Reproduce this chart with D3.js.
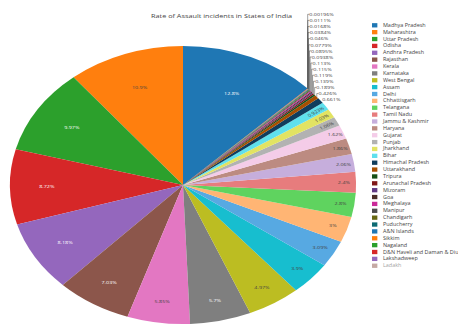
<!DOCTYPE html>
<html>
<head>
<meta charset="utf-8">
<script src="https://cdn.jsdelivr.net/npm/d3@7"></script>
<style>
  html, body { margin: 0; padding: 0; background: #fff; overflow: hidden; }
  svg { display: block; font-family: "Open Sans", verdana, arial, sans-serif; }
</style>
</head>
<body>
<svg id="chart" width="458" height="326"></svg>
<script>
// Share of assault incidents by state (percent of all-India total)
const states = [
  "Madhya Pradesh", "Maharashtra", "Uttar Pradesh", "Odisha", "Andhra Pradesh",
  "Rajasthan", "Kerala", "Karnataka", "West Bengal", "Assam", "Delhi",
  "Chhattisgarh", "Telangana", "Tamil Nadu", "Jammu & Kashmir", "Haryana",
  "Gujarat", "Punjab", "Jharkhand", "Bihar", "Himachal Pradesh", "Uttarakhand",
  "Tripura", "Arunachal Pradesh", "Mizoram", "Goa", "Meghalaya", "Manipur",
  "Chandigarh", "Puducherry", "A&N Islands", "Sikkim", "Nagaland",
  "D&N Haveli and Daman & Diu", "Lakshadweep", "Ladakh"
];
const rates = [
  12.8, 10.9, 9.97, 8.72, 8.18,
  7.03, 5.85, 5.7, 4.97, 3.9, 3.09,
  3, 2.8, 2.4, 2.06, 1.86,
  1.62, 1.06, 1.03, 0.923, 0.661, 0.426,
  0.189, 0.139, 0.119, 0.115, 0.113, 0.0938,
  0.0895, 0.0779, 0.046, 0.0384, 0.0168,
  0.0111, 0.00196, 0
];
const hiddenStates = ["Ladakh"];
const chartTitle = "Rate of Assault incidents in States of India";

const baseColors = ["#1f77b4", "#ff7f0e", "#2ca02c", "#d62728", "#9467bd",
                    "#8c564b", "#e377c2", "#7f7f7f", "#bcbd22", "#17becf"];

// ---- layout ----
const W = 458, H = 326;
const stretchX = 1.245;            // the drawing is widened horizontally
const VW = W / stretchX, VH = H;
const cx = 147, cy = 185, R = 139;
const labelSize = 4.35, legendSize = 4.4, titleSize = 5.85;
const labelGap = labelSize * 1.4;  // vertical spacing of stacked outside labels
const textPad = 1.1;
const ink = "#444";

const svg = d3.select("#chart")
  .attr("viewBox", `0 0 ${VW} ${VH}`)
  .attr("preserveAspectRatio", "none");

// extended palette: base, lighter, darker
function shiftLight(c, amt) {
  const h = d3.hsl(c);
  h.l = Math.max(0, Math.min(1, h.l + amt));
  return h.formatHex();
}
const palette = baseColors
  .concat(baseColors.map(c => shiftLight(c, 0.2)))
  .concat(baseColors.map(c => shiftLight(c, -0.2)));
const color = d3.scaleOrdinal(states, palette);

const data = states.map((s, i) => ({
  name: s, v: rates[i], hidden: hiddenStates.includes(s)
}));
const visible = data.filter(d => !d.hidden);
const total = d3.sum(visible, d => d.v);

// first slice ends at 12 o'clock, slices run counter-clockwise
const firstAngle = visible[0].v / total * 2 * Math.PI;
const pie = d3.pie().sort(null).value(d => d.v)
  .startAngle(firstAngle).endAngle(firstAngle - 2 * Math.PI);
const arcs = pie(visible);
const arc = d3.arc().innerRadius(0).outerRadius(R);

const gPie = svg.append("g").attr("transform", `translate(${cx},${cy})`);
gPie.selectAll("path.slice").data(arcs).join("path")
  .attr("class", "slice")
  .attr("d", arc)
  .attr("fill", d => color(d.data.name));

// ---- percent labels ----
function fmtPct(v) {
  let t = v.toPrecision(3);
  if (t.indexOf(".") !== -1) t = t.replace(/\.?0+$/, "");
  return t + "%";
}
function isDark(c) {
  const r = d3.rgb(c);
  return (r.r * 299 + r.g * 587 + r.b * 114) / 1000 < 128;
}
function maxHalf(a, half, r) {
  const q = a + 1 / (2 * Math.tan(half));
  return r * Math.min(1 / (Math.sqrt(q * q + 0.5) + q), 1 / (Math.sqrt(a * a + 0.5) + a));
}
function rotFor(t) { return ((180 / Math.PI * t + 720) % 180) - 90; }

function insideFit(bb, d) {
  const half = Math.abs(d.endAngle - d.startAngle) / 2;
  const mid = (d.startAngle + d.endAngle) / 2;
  const rIns = Math.min(1 / (1 + 1 / Math.sin(half)), 0.5);
  const opts = [];
  const hz = { scale: rIns * R * 2 / Math.hypot(bb.width, bb.height), rCenter: 1 - rIns, rotate: 0 };
  if (hz.scale >= 1) return hz;
  opts.push(hz);
  const r = Math.max(0, R - 2 * textPad);
  let a = bb.width / bb.height, s = maxHalf(a, half, r);
  opts.push({ scale: s * 2 / bb.height, rCenter: Math.cos(s / r) - a * s / r, rotate: rotFor(mid) });
  a = bb.height / bb.width; s = maxHalf(a, half, r);
  opts.push({ scale: s * 2 / bb.width, rCenter: Math.cos(s / r) - a * s / r, rotate: rotFor(mid + Math.PI / 2) });
  return opts.reduce((m, o) => (o.scale > m.scale ? o : m));
}

const gText = svg.append("g").attr("transform", `translate(${cx},${cy})`);
const outside = [];
arcs.forEach(d => {
  if (d.data.v <= 0) return;
  const mid = (d.startAngle + d.endAngle) / 2;
  const px = R * Math.sin(mid), py = -R * Math.cos(mid);
  const t = gText.append("text")
    .attr("text-anchor", "middle")
    .attr("font-size", labelSize)
    .text(fmtPct(d.data.v));
  const bb = t.node().getBBox();
  const fit = insideFit(bb, d);
  const bcx = bb.x + bb.width / 2, bcy = bb.y + bb.height / 2;
  if (fit.scale >= 1) {
    const fill = color(d.data.name);
    t.attr("fill", isDark(fill) ? "#fff" : ink)
     .attr("transform",
       `translate(${px * fit.rCenter},${py * fit.rCenter}) rotate(${fit.rotate}) translate(${-bcx},${-bcy})`);
  } else {
    let dx = bb.width / 2, dy = bb.height / 2;
    if (px < 0) dx = -dx;
    if (py < 0) dy = -dy;
    const ox = dx + Math.abs(dy) * (dx > 0 ? 1 : -1) / 2;
    const oy = dy / (1 + px * px / (py * py));
    outside.push({ t, bb, bcx, bcy, px, py, x: px + ox, y: py + oy, y0: py + oy });
  }
});

// stack the outside labels so they do not collide
outside.sort((a, b) => b.y0 - a.y0);
outside.forEach((o, i) => {
  if (i > 0) o.y = Math.min(o.y0, outside[i - 1].y - labelGap);
});
const gLines = gText.insert("g", ":first-child");
outside.forEach(o => {
  const hx = o.bb.height / 4 * (o.px < 0 ? -1 : 1);
  o.t.attr("fill", ink)
     .attr("transform", `translate(${o.x},${o.y}) translate(${-o.bcx},${-o.bcy})`);
  if (Math.abs(o.y - o.y0) > 0.01) {
    gLines.append("path")
      .attr("d", `M${o.px},${o.py}V${o.y}h${hx}`)
      .attr("fill", "none")
      .attr("stroke", ink)
      .attr("stroke-width", 0.45);
  }
});

// ---- title ----
svg.append("text")
  .attr("x", 178).attr("y", 18)
  .attr("text-anchor", "middle")
  .attr("font-size", titleSize)
  .attr("fill", ink)
  .text(chartTitle);

// ---- legend ----
const legendY = d3.scalePoint().domain(states).range([25.3, 25.3 + 35 * 6.87]);
const gLeg = svg.append("g");
const items = gLeg.selectAll("g.item").data(data).join("g")
  .attr("class", "item")
  .attr("opacity", d => (d.hidden ? 0.5 : 1))
  .attr("transform", d => `translate(0,${legendY(d.name)})`);
items.append("rect")
  .attr("x", 298.8).attr("y", -2.15)
  .attr("width", 4.3).attr("height", 4.3)
  .attr("fill", d => color(d.name));
items.append("text")
  .attr("x", 307.6).attr("y", 1.5)
  .attr("font-size", legendSize)
  .attr("fill", ink)
  .text(d => d.name);
</script>
</body>
</html>
